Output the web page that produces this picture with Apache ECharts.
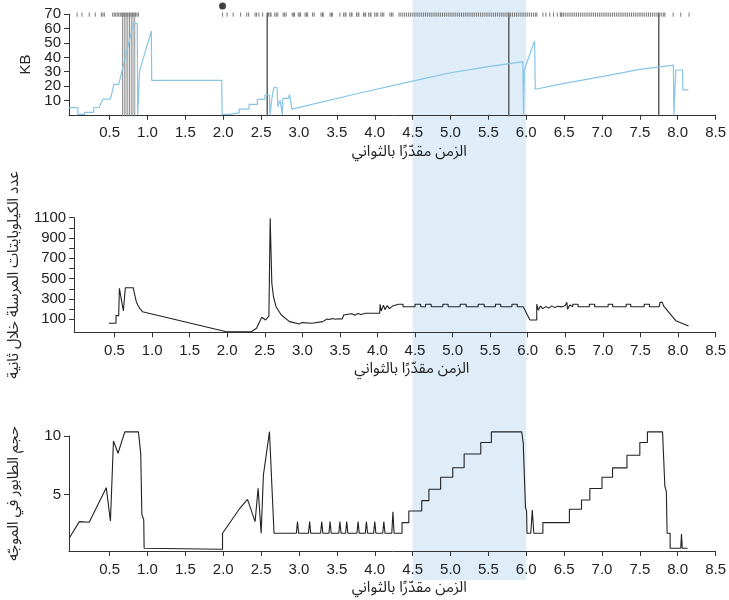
<!DOCTYPE html>
<html><head><meta charset="utf-8">
<script src="https://cdn.jsdelivr.net/npm/echarts@6/dist/echarts.min.js"></script>
<style>html,body{margin:0;padding:0;background:#fff}#c{width:729px;height:600px}</style>
</head><body><div id="c"></div><script>
// ---------- tick labels ----------
const xTicks = [0.5,1,1.5,2,2.5,3,3.5,4,4.5,5,5.5,6,6.5,7,7.5,8,8.5];
const kbTicks = [10,20,30,40,50,60,70];
const kbLabelsOdd = [10,30,50,70];
const kbLabelsEven = [20,40,60];
const rateTicks = [100,200,300,400,500,600,700,800,900,1000,1100];
const rateLabels = [100,300,500,700,900,1100];
const queueTicks = [5,10];
const xTitle = 'الزمن مقدّرًا بالثواني';
const kbTitle = 'KB';
const rateTitle = 'عدد الكيلوبايتات المرسلة خلال ثانية';
const queueTitle = 'حجم الطابور في الموجّه';
const shadeRange = [4.5, 6.0];

// ---------- top panel: window size (KB) ----------
const kbTime = [-0.035,0.08,0.08,0.17,0.17,0.29,0.29,0.36,0.41,0.51,0.556,0.62,0.815,0.864,0.87,0.89,0.895,1.05,1.055,1.98,1.985,2.08,2.08,2.21,2.21,2.34,2.34,2.45,2.45,2.55,2.55,2.61,2.615,2.64,2.65,2.67,2.71,2.72,2.75,2.77,2.78,2.785,2.86,2.875,2.9,2.905,3.79,4.5,5.0,5.5,5.955,5.965,5.975,6.11,6.12,6.5,7.0,7.5,7.943,7.95,7.975,8.065,8.068,8.14];
const kbValue = [5,5,0.3,0.3,1.7,1.7,5.1,5.1,10.9,10.9,21.2,21.2,63.6,63.6,0,0,30.6,58.3,24,24,0.3,0.3,1.4,1.4,4,4,7.2,7.2,10.7,10.7,13.7,13.7,0,0,14.4,19,19,5.6,10.2,10.2,0,11.4,11.4,14.2,14.2,3.9,15,23.5,29.3,33.5,37,0,31.2,51.5,17.8,21.9,26.6,31.6,34.6,0,31.2,31.2,17.3,17.3];
// rug of sent packets (top edge)
const sendTimes = [0.07,0.135,0.23,0.31,0.39,0.41,0.43,0.54,0.56,0.58,0.60,0.62,0.64,0.66,0.68,0.70,0.72,0.74,0.76,0.78,0.80,0.82,0.84,0.86,0.88,
 1.99,2.05,2.13,2.23,2.31,2.335,2.42,2.44,2.47,2.52,2.59,2.60,2.62,2.63,2.68,2.70,2.72,2.79,2.81,2.83,2.91,2.93,2.94,2.99,3.01,3.02,3.08,3.10,3.11,3.18,3.20,3.29,3.31,3.32,3.41,3.43,3.44,3.54,3.59,3.61,3.62,3.67,3.69,3.70,3.76,3.78,3.79,3.85,3.87,3.88,3.92,3.94,3.95,4.00,4.02,4.04,4.08,4.10,4.12,4.20,4.22,4.24,
 4.32,4.345,4.37,4.395,4.42,4.445,4.47,4.495,4.52,4.545,4.57,4.595,4.62,4.645,4.67,4.695,4.72,4.745,4.77,4.795,4.82,4.845,4.87,4.895,4.92,4.945,4.97,4.995,5.02,5.045,5.07,5.095,5.12,5.145,5.17,5.195,5.22,5.245,5.27,5.295,5.32,5.345,5.37,5.395,5.42,5.445,5.47,5.495,5.52,5.545,5.57,5.595,5.62,5.645,5.67,5.695,5.72,5.745,5.77,5.795,5.82,5.845,5.87,5.895,5.92,5.945,5.97,5.995,6.02,6.045,6.07,6.095,6.12,6.14,
 6.22,6.26,6.31,6.36,6.41,6.45,6.46,6.47,
 6.49,6.515,6.54,6.565,6.59,6.615,6.64,6.665,6.69,6.715,6.74,6.765,6.79,6.815,6.84,6.865,6.89,6.915,6.94,6.965,6.99,7.015,7.04,7.065,7.09,7.115,7.14,7.165,7.19,7.215,7.24,7.265,7.29,7.315,7.34,7.365,7.39,7.415,7.44,7.465,7.49,7.515,7.54,7.565,7.59,7.615,7.64,7.665,7.69,7.715,7.74,7.765,7.79,7.815,7.83,
 7.94,8.04,8.15];
const lossCluster = [0.67,0.693,0.716,0.739,0.762,0.785,0.808,0.831];
const lossSingles = [2.58,5.77,7.75];
const timeoutPoint = [1.99, 75.8];

// ---------- middle panel: KB sent per second ----------
const rateSeries = [[0.425,61],[0.52,61],[0.52,136],[0.556,136],[0.565,405],[0.618,182],[0.644,411],[0.75,411],[0.76,372],[0.78,307],[0.79,273],[0.81,241],[0.835,208],[0.872,175],
 [1.99,-22],[2.32,-22],[2.39,11],[2.46,120],[2.51,93],[2.555,132],[2.572,1094],[2.594,454],[2.616,322],[2.65,224],[2.72,142],[2.83,77],[2.96,54],[2.98,54],[2.99,67],[3.0,61],[3.13,61],[3.13,77],[3.27,77],[3.29,93],[3.33,103],[3.36,98],[3.40,108],[3.44,100],[3.48,106],[3.53,103],[3.55,142],[3.60,150],[3.62,135],[3.66,155],[3.70,140],[3.74,158],[3.78,148],[3.84,159],[4.03,159],
 [4.035,248],[4.05,182],[4.08,240],[4.10,195],[4.13,235],[4.16,205],[4.20,230],[4.28,248],[4.34,248],[4.34,224],[4.50,224],[4.50,248],[4.575,248],[4.575,224],[4.64,224],[4.64,248],[4.715,248],[4.715,224],[4.87,224],[4.87,248],[4.94,248],[4.94,224],[5.10,224],[5.10,248],[5.18,248],[5.18,224],[5.34,224],[5.34,248],[5.42,248],[5.42,224],[5.57,224],[5.57,248],[5.64,248],[5.64,224],[5.79,224],[5.79,248],[5.86,248],[5.86,224],[5.94,224],[6.03,93],[6.12,93],
 [6.12,248],[6.14,190],[6.17,230],[6.20,205],[6.24,225],[6.28,210],[6.32,232],[6.36,215],[6.40,228],[6.45,222],[6.50,235],[6.52,267],[6.53,200],[6.56,240],[6.60,224],[6.60,248],[6.67,248],[6.67,224],[6.82,224],[6.82,248],[6.89,248],[6.89,224],[7.07,224],[7.07,248],[7.13,248],[7.13,224],[7.31,224],[7.31,248],[7.37,248],[7.37,224],[7.55,224],[7.55,248],[7.62,248],[7.62,224],[7.75,224],[7.76,267],[7.79,267],[7.81,230],[7.97,86],[8.14,34]];

// ---------- bottom panel: router queue size ----------
const queueSeries = [[-0.035,1.29],[0.10,2.7],[0.23,2.65],[0.455,5.6],[0.51,2.76],[0.55,9.58],[0.61,8.53],[0.70,10.35],[0.88,10.35],[0.91,8.5],[0.925,3.33],[0.95,2.85],[0.955,0.43],[1.99,0.35],[1.99,1.71],[2.21,3.76],[2.32,4.6],[2.42,2.7],[2.46,5.55],[2.50,1.71],[2.53,6.68],[2.61,10.37],[2.65,4.6],[2.67,4.6],[2.67,1.71],
 [2.965,1.71],[2.98,2.7],[2.995,1.71],[3.125,1.71],[3.14,2.7],[3.155,1.71],[3.285,1.71],[3.30,2.7],[3.315,1.71],[3.395,1.71],[3.41,2.7],[3.425,1.71],[3.525,1.71],[3.54,2.7],[3.555,1.71],[3.615,1.71],[3.63,2.7],[3.645,1.71],[3.765,1.71],[3.78,2.7],[3.795,1.71],[3.875,1.71],[3.89,2.7],[3.905,1.71],[3.985,1.71],[4.0,2.7],[4.015,1.71],[4.105,1.71],[4.12,2.7],[4.135,1.71],[4.225,1.71],[4.24,3.55],[4.255,1.71],
 [4.36,1.71],[4.36,2.62],[4.45,2.62],[4.45,3.61],[4.62,3.61],[4.62,4.49],[4.715,4.49],[4.715,5.46],[4.87,5.46],[4.87,6.48],[5.03,6.48],[5.03,7.3],[5.18,7.3],[5.18,8.47],[5.40,8.47],[5.40,9.44],[5.54,9.44],[5.54,10.35],[5.94,10.35],[5.96,9.44],[5.98,9.44],[5.99,3.93],[6.005,3.6],[6.01,1.71],[6.06,1.71],[6.08,3.7],[6.10,1.71],[6.22,1.71],[6.22,2.62],[6.57,2.62],[6.57,3.76],[6.73,3.76],[6.73,4.55],[6.84,4.55],[6.84,5.52],[7.0,5.52],[7.0,6.48],[7.14,6.48],[7.14,7.28],[7.33,7.28],[7.33,8.36],[7.5,8.36],[7.5,9.44],[7.6,9.44],[7.6,10.35],[7.8,10.35],[7.83,5.74],[7.85,5.26],[7.86,1.71],[7.9,1.71],[7.9,0.43],[8.04,0.43],[8.05,1.65],[8.06,0.43],[8.13,0.43]];

// ---------- chart ----------
const FONT = '"Liberation Sans", Arial, Helvetica, sans-serif';
const AR = '"Noto Sans Arabic", "DejaVu Sans", sans-serif';
const AX = '#333';
const grids = [
  {left: 69, right: 12, top: 14.3, height: 100.5},
  {left: 69, right: 12, top: 217.7, height: 114.6},
  {left: 69, right: 12, top: 436, height: 115}
];
function xAxis(i) {
  return {
    type: 'value', gridIndex: i, min: -0.037, max: 8.5,
    axisLine: {show: true, onZero: false, lineStyle: {color: AX, width: 1}},
    axisTick: {show: true, length: 5, customValues: xTicks, lineStyle: {color: AX}},
    axisLabel: {customValues: xTicks, formatter: v => v.toFixed(1), color: '#222', fontSize: 15, fontFamily: FONT, margin: 11, hideOverlap: false},
    splitLine: {show: false},
    name: xTitle, nameLocation: 'middle', nameGap: 31,
    nameTextStyle: {fontFamily: AR, fontSize: 15, color: '#222', padding: [0, 0, 0, 34]}
  };
}
function yAxis(i, min, max, ticks, labels, name, gap, nfont) {
  return {
    type: 'value', gridIndex: i, min, max,
    axisLine: {show: true, onZero: false, lineStyle: {color: AX, width: 1}},
    axisTick: {show: true, length: 5, customValues: ticks, lineStyle: {color: AX}},
    axisLabel: {customValues: labels, formatter: v => String(v), color: '#222', fontSize: 15, fontFamily: FONT, margin: 8,
      showMinLabel: true, showMaxLabel: true, hideOverlap: false},
    splitLine: {show: false},
    name, nameLocation: 'middle', nameGap: gap, nameRotate: 90,
    nameTextStyle: {fontFamily: nfont, fontSize: 15, color: '#222'}
  };
}
function vlines(times, color, width) {
  return {
    type: 'custom', xAxisIndex: 0, yAxisIndex: 0, z: 3, silent: true,
    data: times.map(t => [t, 70]),
    renderItem: (p, api) => {
      const t = api.coord([api.value(0), 70]);
      const b = api.coord([api.value(0), 0]);
      return {type: 'line', shape: {x1: t[0], y1: t[1] - 1.5, x2: b[0], y2: b[1] + 1.5}, style: {stroke: color, lineWidth: width}};
    }
  };
}
// second label-only axis on the top panel so that tightly packed labels are all shown
const kbEvenAxis = {
  type: 'value', gridIndex: 0, min: 0, max: 70, position: 'left', offset: 0,
  axisLine: {show: false}, axisTick: {show: false}, splitLine: {show: false},
  axisLabel: {customValues: kbLabelsEven, formatter: v => String(v), color: '#222', fontSize: 15, fontFamily: FONT, margin: 8,
    showMinLabel: true, showMaxLabel: true, hideOverlap: false}
};
const chart = echarts.init(document.getElementById('c'), null, {renderer: 'canvas'});
chart.setOption({
  animation: false,
  backgroundColor: '#fff',
  grid: grids,
  xAxis: [xAxis(0), xAxis(1), xAxis(2)],
  yAxis: [
    yAxis(0, 0, 70, kbTicks, kbLabelsOdd, kbTitle, 36, FONT),
    yAxis(1, -28, 1100, rateTicks, rateLabels, rateTitle, 42, AR),
    yAxis(2, 0.2, 10, queueTicks, queueTicks, queueTitle, 46, AR),
    kbEvenAxis
  ],
  series: [
    { // shaded interval
      type: 'custom', xAxisIndex: 0, yAxisIndex: 0, z: -5, silent: true,
      data: [[shadeRange[0], shadeRange[1], 0]],
      encode: {x: [0, 1], y: 2},
      renderItem: (p, api) => {
        const a = api.coord([api.value(0), 0])[0];
        const b = api.coord([api.value(1), 0])[0];
        return {type: 'rect', shape: {x: a, y: 0, width: b - a, height: 580}, style: {fill: '#deedf7'}};
      }
    },
    vlines(lossCluster, '#777', 0.8),
    vlines(lossSingles, '#555', 1.4),
    { // rug
      type: 'custom', xAxisIndex: 0, yAxisIndex: 0, z: 3, silent: true,
      data: sendTimes.map(t => [t, 70]),
      renderItem: (p, api) => {
        const c = api.coord([api.value(0), api.value(1)]);
        return {type: 'line', shape: {x1: c[0], y1: c[1] - 1.8, x2: c[0], y2: c[1] + 2.4}, style: {stroke: '#777', lineWidth: 1}};
      }
    },
    {
      type: 'scatter', xAxisIndex: 0, yAxisIndex: 0, clip: false, silent: true,
      data: [timeoutPoint], symbolSize: 7, itemStyle: {color: '#111'}
    },
    {
      type: 'line', xAxisIndex: 0, yAxisIndex: 0, showSymbol: false, symbol: 'none', z: 4,
      data: kbTime.map((t, i) => [t, kbValue[i]]),
      lineStyle: {color: '#86c5e6', width: 1.2}
    },
    {
      type: 'line', xAxisIndex: 1, yAxisIndex: 1, showSymbol: false, symbol: 'none', clip: false,
      data: rateSeries, lineStyle: {color: '#222', width: 1.1}
    },
    {
      type: 'line', xAxisIndex: 2, yAxisIndex: 2, showSymbol: false, symbol: 'none', clip: false,
      data: queueSeries, lineStyle: {color: '#222', width: 1.1}
    }
  ]
});
</script></body></html>
